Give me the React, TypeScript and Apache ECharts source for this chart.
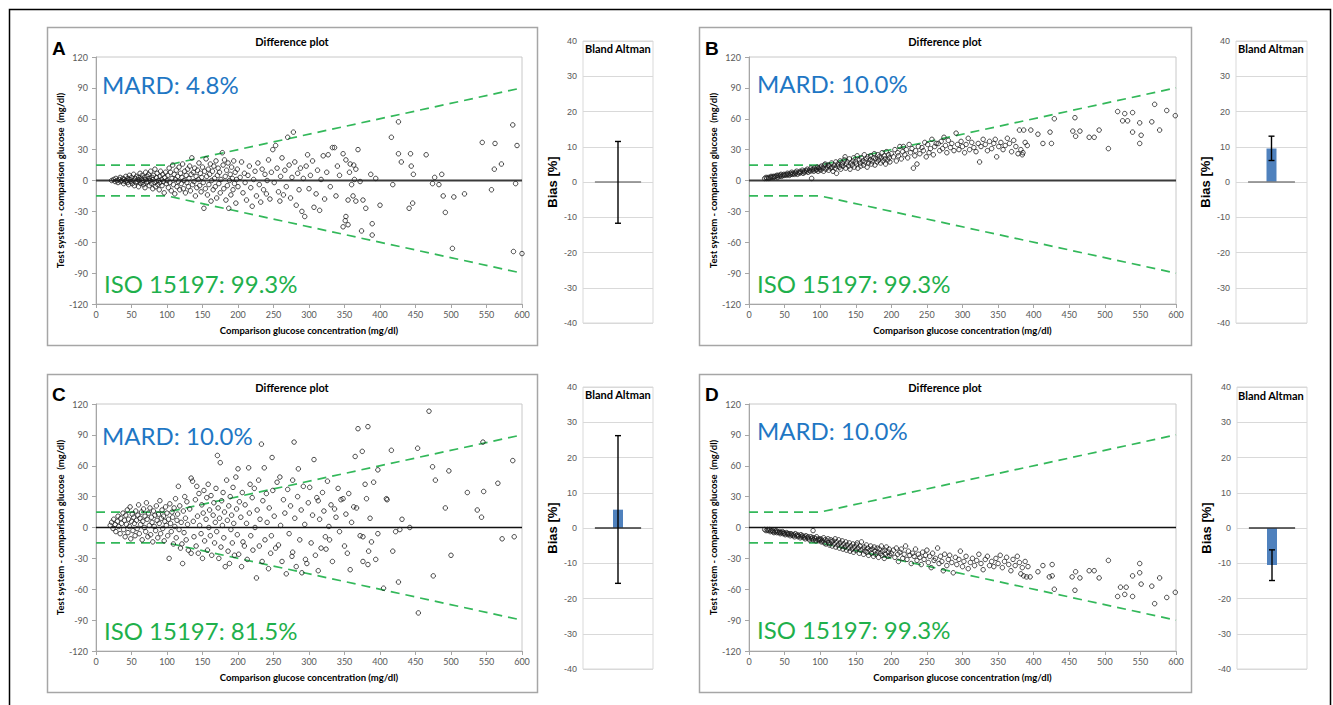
import { useEffect, useRef } from "react";
import * as echarts from "echarts";

type Pt = [number, number];

// ---------- DATA ----------
const scatterA: Pt[] = [
  [22,0],[25,1],[27,-1],[28,2],[30,0],[31,-2],[33,1],[34,3],[35,-1],[36,0],[38,2],[39,-3],[40,1],[41,-1],[42,4],[43,0],[44,-2],[45,2],[46,-4],[47,5],[48,1],[49,-1],[50,3],[51,-3],[52,0],[53,6],[54,-5],[55,2],[56,-2],[57,4],[58,-1],[59,1],[60,-6],[60,3],[61,0],[62,7],[63,-3],[64,2],[65,-2],[65,5],[66,0],[67,-4],[68,3],[69,-7],[70,1],[70,8],[71,-2],[72,4],[73,-1],[74,6],[75,-5],[75,2],[76,0],[77,9],[78,-3],[79,3],[80,-8],[80,1],[81,5],[82,-2],[83,11],[84,-6],[85,3],[85,-1],[86,7],[87,-4],[88,0],[89,-9],[90,4],[90,-2],[91,9],[92,1],[93,-5],[94,6],[95,-1],[96,-12],[97,3],[98,8],[99,-3],[100,0],
  [101,5],[102,-7],[103,12],[104,-2],[105,8],[106,-10],[107,2],[108,15],[109,-4],[110,6],[111,-13],[112,1],[113,10],[114,-6],[115,4],[116,-1],[117,13],[118,-9],[119,7],[120,-3],[121,3],[122,16],[123,-8],[124,0],[125,9],[126,-12],[127,5],[128,-2],[129,11],[130,-6],[131,2],[132,14],[133,-10],[134,6],[135,22],[136,-4],[137,8],[138,-1],[139,12],[140,-15],[141,4],[142,-7],[143,10],[144,1],[145,17],[146,-5],[147,7],[148,-11],[149,3],[150,13],[151,-2],[152,-27],[153,9],[154,-8],[155,21],[156,4],[157,-14],[158,11],[159,-4],[160,6],[161,16],[162,-20],[163,0],[164,9],[165,-9],[166,14],[167,2],[168,-6],[169,19],[170,-17],[171,5],[172,12],[173,-3],[174,8],[175,-12],[176,1],[178,27],[179,15],[180,-8],[181,20],[182,4],[183,-19],[184,10],[185,-5],[186,17],[187,-27],[188,0],[189,6],[190,-14],[191,13],[192,2],[193,-9],[194,19],[195,-3],[196,8],[197,-22],[198,1],[199,11],[200,-6],
  [203,3],[205,18],[207,-12],[209,7],[210,-2],[212,-19],[214,5],[216,14],[218,-7],[220,-25],[222,1],[224,9],[226,-15],[228,17],[230,-4],[232,-21],[234,11],[236,-9],[238,6],[240,-13],[241,0],[243,20],[245,-18],[247,8],[249,30],[251,-2],[253,34],[255,12],[257,-11],[259,-20],[260,4],[262,22],[264,-14],[266,10],[268,-6],[270,42],[272,15],[274,-17],[276,3],[278,47],[280,18],[282,-24],[284,7],[286,-9],[288,12],[290,-30],[292,2],[294,-35],[296,14],[298,25],[300,-8],[302,5],[305,19],[307,-26],[310,-13],[312,10],[315,-29],[317,1],[320,24],[322,-18],[325,8],[327,25],[330,-6],[333,32],[336,32],[338,-15],[340,14],
  [343,5],[348,26],[348,-45],[351,-39],[352,20],[352,-35],[355,-19],[355,-43],[357,8],[358,16],[360,-4],[362,-15],[363,15],[364,1],[366,11],[366,-20],[369,30],[372,-1],[374,-49],[376,-19],[380,-27],[387,6],[389,-42],[389,-53],[394,2],[400,-24],[416,42],[418,-4],[426,57],[426,26],[430,18],[441,-27],[443,26],[444,14],[446,-22],[447,6],[465,25],[474,-3],[477,3],[483,-4],[487,6],[489,-15],[492,-31],[502,-66],[504,-16],[519,-13],[544,37],[557,-9],[561,11],[562,36],[571,16],[587,54],[588,-69],[591,-3],[593,34],[600,-71]
];

const scatterB: Pt[] = [
  [22,2],[24,3],[25,2],[27,3],[28,2],[30,3],[31,4],[32,3],[34,4],[35,3],[36,4],[38,4],[39,5],[40,3],[41,5],[43,4],[44,5],[45,6],[46,4],[48,5],[49,6],[50,5],[52,6],[53,5],[54,7],[55,6],[57,5],[58,7],[59,6],[60,8],[61,6],[62,7],[64,6],[65,8],[66,7],[67,9],[68,6],[70,8],[71,7],[72,9],[73,8],[75,10],[76,7],[77,9],[78,8],[80,10],[81,9],[82,11],[83,8],[85,10],[86,9],[87,12],[88,2],[89,10],[90,11],[91,9],[92,12],[94,10],[95,11],[96,13],[97,9],[98,12],[99,11],[100,13],
  [101,10],[102,14],[104,12],[105,9],[106,15],[107,16],[108,11],[110,13],[111,15],[112,10],[113,14],[115,12],[116,17],[117,13],[118,9],[120,15],[121,12],[122,18],[123,7],[124,14],[125,16],[127,13],[128,19],[129,11],[130,15],[131,17],[132,14],[134,20],[135,23],[136,12],[137,16],[138,18],[140,14],[141,21],[142,11],[143,17],[145,15],[146,19],[147,22],[148,13],[150,18],[151,16],[152,24],[153,12],[155,20],[156,17],[157,14],[158,22],[160,19],[161,15],[162,25],[163,18],[165,21],[166,13],[167,23],[168,17],[170,20],[171,24],[172,16],[173,19],[175,22],[176,26],[177,15],[178,21],[180,18],[181,25],[182,20],[183,23],[185,17],[186,22],[187,27],[188,19],[190,24],[191,21],[192,16],[193,28],[195,20],[196,25],[197,22],[198,18],[200,26],
  [203,23],[205,30],[207,19],[209,27],[210,24],[212,33],[214,21],[216,28],[217,33],[219,25],[221,30],[223,22],[225,35],[227,27],[229,31],[231,12],[233,24],[234,29],[236,16],[238,33],[240,26],[243,32],[245,29],[247,37],[249,23],[251,35],[253,27],[255,31],[257,40],[259,25],[261,33],[263,36],[266,36],[268,29],[270,38],[272,31],[274,42],[276,34],[278,27],[280,39],[283,32],[285,36],[288,29],[291,46],[293,35],[295,30],[298,38],[300,33],[303,27],[305,35],[308,41],[310,30],[313,37],[316,32],[319,28],[322,36],[324,18],[326,33],[329,40],[332,35],[335,29],[338,38],[341,31],[344,36],[346,40],[348,23],[351,33],[354,37],[357,30],[360,34],[363,41],[366,36],[369,28],[372,39],[375,33],[378,26],[380,49],[382,30],[384,25],[385,27],[386,49],[388,37],[391,34],[396,49],
  [406,45],[413,36],[423,47],[425,36],[429,60],[455,48],[458,61],[459,43],[465,48],[478,42],[485,42],[492,49],[505,31],[518,67],[525,58],[528,65],[532,58],[539,66],[539,47],[549,36],[549,56],[551,44],[566,57],[570,74],[577,49],[587,68],[599,63]
];

const scatterC: Pt[] = [
  [20,2],[22,5],[24,-1],[25,8],[27,3],[28,-4],[30,6],[31,11],[32,1],[34,-6],[35,9],[36,4],[38,14],[39,-2],[40,7],[41,-9],[42,12],[43,3],[44,17],[45,-5],[46,8],[47,1],[48,20],[49,-11],[50,6],[51,13],[52,-3],[53,10],[54,4],[55,-8],[56,16],[57,7],[58,-1],[59,12],[60,22],[61,-6],[62,9],[63,3],[64,15],[65,-12],[66,6],[67,18],[68,0],[69,11],[70,-4],[71,24],[72,8],[73,-9],[74,14],[75,2],[76,19],[77,-7],[78,10],[79,5],[80,-14],[81,16],[82,1],[83,12],[84,-3],[85,21],[86,7],[87,-10],[88,13],[89,4],[90,26],[91,-6],[92,9],[93,17],[94,-1],[95,11],[96,-13],[97,6],[98,20],[99,2],[100,14],[101,-8],[102,8],[103,-30],[104,23],[105,4],[106,-4],[107,15],[108,10],[109,-16],[110,19],[111,1],[112,28],[113,-10],[114,7],[115,13],[116,40],[117,-2],[118,21],[119,-20],[120,5],[121,-16],[122,-35],[123,16],[124,-5],[125,30],[126,9],[127,-12],[128,25],[129,3],[130,-22],
  [132,18],[134,48],[134,-25],[136,45],[137,6],[138,-9],[140,27],[141,-18],[142,40],[143,11],[144,-25],[145,33],[146,2],[148,-6],[149,22],[150,-30],[151,14],[152,36],[153,-13],[155,8],[156,29],[157,-22],[158,42],[159,0],[160,17],[161,-8],[162,31],[163,-27],[165,12],[166,24],[167,-15],[168,5],[169,38],[170,-4],[171,70],[172,19],[173,-30],[174,9],[175,63],[176,-19],[177,26],[178,2],[179,34],[180,-10],[181,15],[182,-38],[184,46],[185,7],[186,-23],[187,21],[188,-35],[189,30],[190,-2],[191,12],[192,-15],[193,39],[194,4],[195,-27],[197,49],[198,18],[199,-7],[200,57],[201,-26],[202,25],[204,10],[205,-38],[206,34],[207,-14],[209,-18],[210,22],[212,4],[213,-31],[215,58],[216,14],[217,42],[218,-8],[220,29],[221,-22],[223,38],[224,0],[226,-49],[227,17],[229,46],[230,-18],[231,8],[233,81],[234,-33],[235,26],[237,58],[238,-12],[240,33],[241,5],[243,-40],[244,19],[246,-25],[247,-8],[248,68],[249,36],
  [251,11],[253,-20],[255,44],[257,-17],[259,49],[260,2],[262,-33],[264,27],[266,14],[268,-45],[270,37],[272,-6],[274,21],[276,-28],[277,46],[277,-24],[279,83],[280,9],[282,-38],[284,30],[285,57],[287,-12],[289,17],[290,-44],[292,40],[294,3],[295,-31],[297,-35],[299,24],[301,39],[303,-15],[305,12],[307,66],[309,-27],[311,29],[313,-42],[313,26],[315,8],[317,-20],[319,34],[321,16],[323,-9],[324,-21],[326,45],[328,1],[329,-12],[331,22],[333,-33],[336,18],[338,10],[341,38],[343,-4],[345,27],[348,28],[350,-18],[352,13],[354,-25],[356,33],[358,-41],[360,5],[363,20],[365,69],[367,19],[369,96],[372,-8],[375,74],[376,-9],[376,-33],[379,42],[381,28],[383,98],[383,-36],[384,-23],[386,9],[388,-14],[391,44],[394,-31],[397,56],[397,-6],
  [405,-59],[409,28],[410,27],[416,75],[418,-23],[422,-4],[426,-53],[428,-2],[431,8],[442,0],[453,77],[454,-83],[469,113],[474,59],[475,-47],[478,46],[492,19],[497,55],[500,-27],[523,34],[537,17],[543,10],[545,83],[546,35],[566,43],[572,-11],[587,65],[589,-9]
];

const scatterD: Pt[] = [
  [22,-2],[24,-3],[26,-2],[27,-3],[29,-2],[30,-4],[31,-3],[33,-3],[34,-4],[35,-5],[37,-4],[38,-3],[39,-5],[40,-4],[42,-5],[43,-4],[44,-6],[45,-5],[47,-4],[48,-6],[49,-5],[50,-6],[51,-7],[53,-5],[54,-6],[55,-7],[56,-6],[58,-8],[59,-6],[60,-7],[62,-8],[63,-7],[64,-9],[65,-6],[67,-8],[68,-7],[69,-9],[70,-8],[72,-10],[73,-7],[74,-9],[75,-8],[77,-10],[78,-9],[79,-11],[80,-8],[82,-10],[83,-9],[84,-11],[85,-12],[87,-9],[88,-11],[89,-10],[90,-3],[90,-12],[92,-10],[93,-11],[94,-13],[95,-9],[97,-12],[98,-11],[99,-13],[100,-12],
  [101,-11],[102,-14],[103,-13],[105,-10],[106,-15],[107,-12],[108,-16],[110,-13],[111,-11],[112,-15],[113,-17],[115,-12],[116,-14],[117,-18],[118,-13],[120,-16],[121,-11],[122,-19],[123,-14],[125,-17],[126,-12],[127,-20],[128,-15],[130,-18],[131,-13],[132,-21],[133,-16],[135,-19],[136,-14],[137,-22],[138,-17],[140,-20],[141,-15],[142,-23],[143,-18],[145,-21],[146,-16],[147,-24],[148,-19],[150,-22],[151,-17],[152,-15],[153,-20],[155,-25],[156,-18],[157,-22],[158,-14],[160,-21],[161,-26],[162,-19],[163,-23],[165,-17],[166,-24],[167,-20],[168,-27],[170,-22],[171,-18],[172,-25],[173,-21],[175,-28],[176,-19],[177,-23],[178,-26],[180,-20],[181,-24],[182,-29],[183,-21],[185,-25],[186,-18],[187,-27],[188,-23],[190,-30],[191,-22],[192,-26],[193,-19],[195,-28],[196,-24],[197,-21],[198,-27],[200,-25],
  [203,-22],[205,-29],[207,-20],[209,-26],[210,-33],[212,-24],[214,-21],[216,-30],[218,-26],[220,-18],[222,-31],[224,-23],[226,-27],[228,-35],[230,-25],[232,-28],[234,-21],[236,-32],[238,-26],[240,-29],[242,-36],[244,-24],[246,-31],[248,-27],[250,-22],[252,-34],[254,-28],[256,-39],[258,-25],[260,-32],[262,-30],[265,-20],[267,-35],[269,-28],[271,-33],[273,-42],[275,-26],[278,-37],[280,-31],[282,-27],[285,-34],[287,-44],[290,-29],[292,-36],[295,-31],[297,-23],[300,-38],[302,-33],[305,-28],[308,-40],[311,-34],[314,-30],[317,-37],[320,-32],[323,-26],[326,-35],[329,-41],[332,-31],[335,-28],[338,-37],[341,-33],[344,-38],[347,-30],[350,-35],[353,-27],[356,-39],[359,-33],[362,-29],[365,-36],[368,-42],[371,-31],[374,-37],[377,-28],[380,-34],[382,-45],[384,-39],[386,-47],[388,-33],[390,-48],[392,-38],[395,-48],
  [406,-43],[413,-37],[422,-48],[426,-36],[426,-47],[429,-60],[454,-48],[458,-61],[459,-43],[465,-49],[478,-42],[485,-42],[492,-49],[505,-32],[518,-67],[522,-58],[528,-65],[530,-58],[539,-47],[539,-67],[549,-35],[549,-44],[551,-55],[566,-57],[570,-74],[577,-49],[587,-68],[599,-63]
];

const isoUpper: Pt[] = [[0, 15], [100, 15], [600, 90]];
const isoLower: Pt[] = [[0, -15], [100, -15], [600, -90]];
const zeroLine: Pt[] = [[0, 0], [600, 0]];

const panelLetters = ["A", "B", "C", "D"];
const mardLabels = ["MARD: 4.8%", "MARD: 10.0%", "MARD: 10.0%", "MARD: 10.0%"];
const isoLabels = ["ISO 15197: 99.3%", "ISO 15197: 99.3%", "ISO 15197: 81.5%", "ISO 15197: 99.3%"];
const biasMean = [0, 9.5, 5.2, -10.5];
const biasLow = [-11.7, 6.1, -15.7, -14.9];
const biasHigh = [11.5, 13.0, 26.2, -6.2];
const biasZero: Pt[] = [[0.17, 0], [0.83, 0]];

const diffTitle = "Difference plot";
const baTitle = "Bland Altman";
const xName = "Comparison glucose concentration (mg/dl)";
const yName = "Test system - comparison glucose  (mg/dl)";
const biasName = "Bias [%]";

const scatters = [scatterA, scatterB, scatterC, scatterD];

// ---------- LAYOUT ----------
const layout = [
  { frame: [47, 27, 490, 318], diff: [96, 57, 426, 247], bar: [583, 41, 70, 282], letter: [52, 48], title: [292, 41], mard: [102, 84], iso: [104, 283], bland: [585, 48], zc: "#3a3a3a", zw: 2.2, bz: "#808080" },
  { frame: [699, 27, 492, 318], diff: [749, 57, 427, 247], bar: [1236, 41, 71, 282], letter: [705, 48], title: [945, 41], mard: [757, 83], iso: [757, 283], bland: [1238, 48], zc: "#3a3a3a", zw: 2.2, bz: "#808080" },
  { frame: [47, 374, 490, 318], diff: [96, 404, 426, 247], bar: [583, 387, 70, 282], letter: [52, 394], title: [292, 387], mard: [102, 435], iso: [104, 630], bland: [585, 394], zc: "#111111", zw: 1.6, bz: "#333333" },
  { frame: [699, 374, 492, 318], diff: [749, 404, 427, 247], bar: [1237, 387, 70, 282], letter: [705, 394], title: [945, 387], mard: [757, 430], iso: [757, 629], bland: [1238, 395], zc: "#111111", zw: 1.6, bz: "#333333" },
];

const FONT = "Lato, 'Liberation Sans', sans-serif";
const ARIAL = "'Liberation Sans', Arial, sans-serif";

function buildOption(): any {
  const grid: any[] = [];
  const xAxis: any[] = [];
  const yAxis: any[] = [];
  const series: any[] = [];
  const graphic: any[] = [];

  graphic.push({
    type: "rect", silent: true, z: -10,
    shape: { x: 9.5, y: 9.5, width: 1321, height: 720 },
    style: { fill: "none", stroke: "#000", lineWidth: 1.5 },
  });

  layout.forEach((L) => {
    grid.push({ left: L.diff[0], top: L.diff[1], width: L.diff[2], height: L.diff[3], show: true, borderColor: "#c8c8c8", borderWidth: 1, backgroundColor: "transparent" });
  });
  layout.forEach((L) => {
    grid.push({ left: L.bar[0], top: L.bar[1], width: L.bar[2], height: L.bar[3], show: true, borderColor: "#d9d9d9", borderWidth: 1, backgroundColor: "transparent" });
  });

  layout.forEach((L, i) => {
    xAxis.push({
      type: "value", gridIndex: i, min: 0, max: 600, interval: 50,
      axisLine: { show: true, onZero: false, lineStyle: { color: "#a6a6a6" } },
      axisTick: { show: true, length: 4, lineStyle: { color: "#a6a6a6" } },
      axisLabel: { color: "#595959", fontSize: 9, fontFamily: FONT, margin: 6 },
      splitLine: { show: false },
      name: xName, nameLocation: "middle", nameGap: 21,
      nameTextStyle: { color: "#000", fontWeight: "bold", fontSize: 9.5, fontFamily: FONT },
    });
    yAxis.push({
      type: "value", gridIndex: i, min: -120, max: 120, interval: 30,
      axisLine: { show: true, onZero: false, lineStyle: { color: "#a6a6a6" } },
      axisTick: { show: true, length: 4, lineStyle: { color: "#a6a6a6" } },
      axisLabel: { color: "#595959", fontSize: 9, fontFamily: FONT, margin: 8 },
      splitLine: { show: false },
      name: yName, nameLocation: "middle", nameGap: 28,
      nameTextStyle: { color: "#000", fontWeight: "bold", fontSize: 9.5, fontFamily: FONT },
    });
  });
  layout.forEach((L, i) => {
    xAxis.push({ type: "value", gridIndex: 4 + i, min: 0, max: 1, show: false });
    yAxis.push({
      type: "value", gridIndex: 4 + i, min: -40, max: 40, interval: 10,
      axisLine: { show: false }, axisTick: { show: false },
      axisLabel: { color: "#595959", fontSize: 9, fontFamily: ARIAL, margin: 6 },
      splitLine: { show: true, lineStyle: { color: "#d9d9d9", width: 1 } },
      name: biasName, nameLocation: "middle", nameGap: 24,
      nameTextStyle: { color: "#000", fontWeight: "bold", fontSize: 13, fontFamily: ARIAL },
    });
  });

  layout.forEach((L, i) => {
    series.push({
      type: "line", xAxisIndex: i, yAxisIndex: i, data: zeroLine, symbol: "none", silent: true, z: 1,
      lineStyle: { color: L.zc, width: L.zw },
    });
    series.push({
      type: "scatter", xAxisIndex: i, yAxisIndex: i, data: scatters[i], symbol: "circle", symbolSize: 4.5, silent: true, z: 3,
      itemStyle: { color: "rgba(0,0,0,0)", borderColor: "#1a1a1a", borderWidth: 1 },
    });
    [isoUpper, isoLower].forEach((d) => {
      series.push({
        type: "line", xAxisIndex: i, yAxisIndex: i, data: d, symbol: "none", silent: true, z: 2,
        lineStyle: { color: "#33b85a", width: 1.7, type: [9, 6] },
      });
    });

    series.push({
      type: "bar", xAxisIndex: 4 + i, yAxisIndex: 4 + i, data: [[0.5, biasMean[i]]], barWidth: 10, silent: true, z: 2,
      itemStyle: { color: "#4f81bd" },
    });
    series.push({
      type: "line", xAxisIndex: 4 + i, yAxisIndex: 4 + i, data: biasZero, symbol: "none", silent: true, z: 3,
      lineStyle: { color: L.bz, width: 1.3 },
    });
    series.push({
      type: "custom", xAxisIndex: 4 + i, yAxisIndex: 4 + i, silent: true, z: 4,
      data: [[0.5, biasLow[i], biasHigh[i]]],
      encode: { x: 0, y: [1, 2] },
      renderItem: (_p: any, api: any) => {
        const x = api.value(0);
        const lo = api.coord([x, api.value(1)]);
        const hi = api.coord([x, api.value(2)]);
        const cap = 3;
        const st = { stroke: "#000", lineWidth: 1.4 };
        return {
          type: "group",
          children: [
            { type: "line", shape: { x1: lo[0], y1: lo[1], x2: hi[0], y2: hi[1] }, style: st },
            { type: "line", shape: { x1: lo[0] - cap, y1: lo[1], x2: lo[0] + cap, y2: lo[1] }, style: st },
            { type: "line", shape: { x1: hi[0] - cap, y1: hi[1], x2: hi[0] + cap, y2: hi[1] }, style: st },
          ],
        };
      },
    });

    graphic.push({
      type: "rect", silent: true, z: -5,
      shape: { x: L.frame[0] + 0.5, y: L.frame[1] + 0.5, width: L.frame[2], height: L.frame[3] },
      style: { fill: "none", stroke: "#a6a6a6", lineWidth: 1.5 },
    });
    graphic.push({
      type: "text", silent: true, x: L.letter[0], y: L.letter[1],
      style: { text: panelLetters[i], font: `bold 19px ${ARIAL}`, fill: "#000", align: "left", verticalAlign: "middle" },
    });
    graphic.push({
      type: "text", silent: true, x: L.title[0], y: L.title[1],
      style: { text: diffTitle, font: `bold 11px ${FONT}`, fill: "#000", align: "center", verticalAlign: "middle" },
    });
    graphic.push({
      type: "text", silent: true, x: L.mard[0], y: L.mard[1], z: 10,
      style: { text: mardLabels[i], font: `24px ${FONT}`, fill: "#1f77c4", align: "left", verticalAlign: "middle" },
    });
    graphic.push({
      type: "text", silent: true, x: L.iso[0], y: L.iso[1], z: 10,
      style: { text: isoLabels[i], font: `24px ${FONT}`, fill: "#1fb04c", align: "left", verticalAlign: "middle" },
    });
    graphic.push({
      type: "text", silent: true, x: L.bland[0], y: L.bland[1], z: 10,
      style: { text: baTitle, font: `bold 11px ${FONT}`, fill: "#000", align: "left", verticalAlign: "middle" },
    });
  });

  return { animation: false, backgroundColor: "#ffffff", grid, xAxis, yAxis, series, graphic };
}

export default function App() {
  const ref = useRef<HTMLDivElement | null>(null);
  useEffect(() => {
    if (!ref.current) return;
    const chart = echarts.init(ref.current, undefined, { renderer: "svg" });
    chart.setOption(buildOption());
    return () => chart.dispose();
  }, []);
  return (
    <div
      ref={ref}
      style={{ position: "fixed", left: 0, top: 0, width: 1333, height: 705, background: "#fff" }}
    />
  );
}
